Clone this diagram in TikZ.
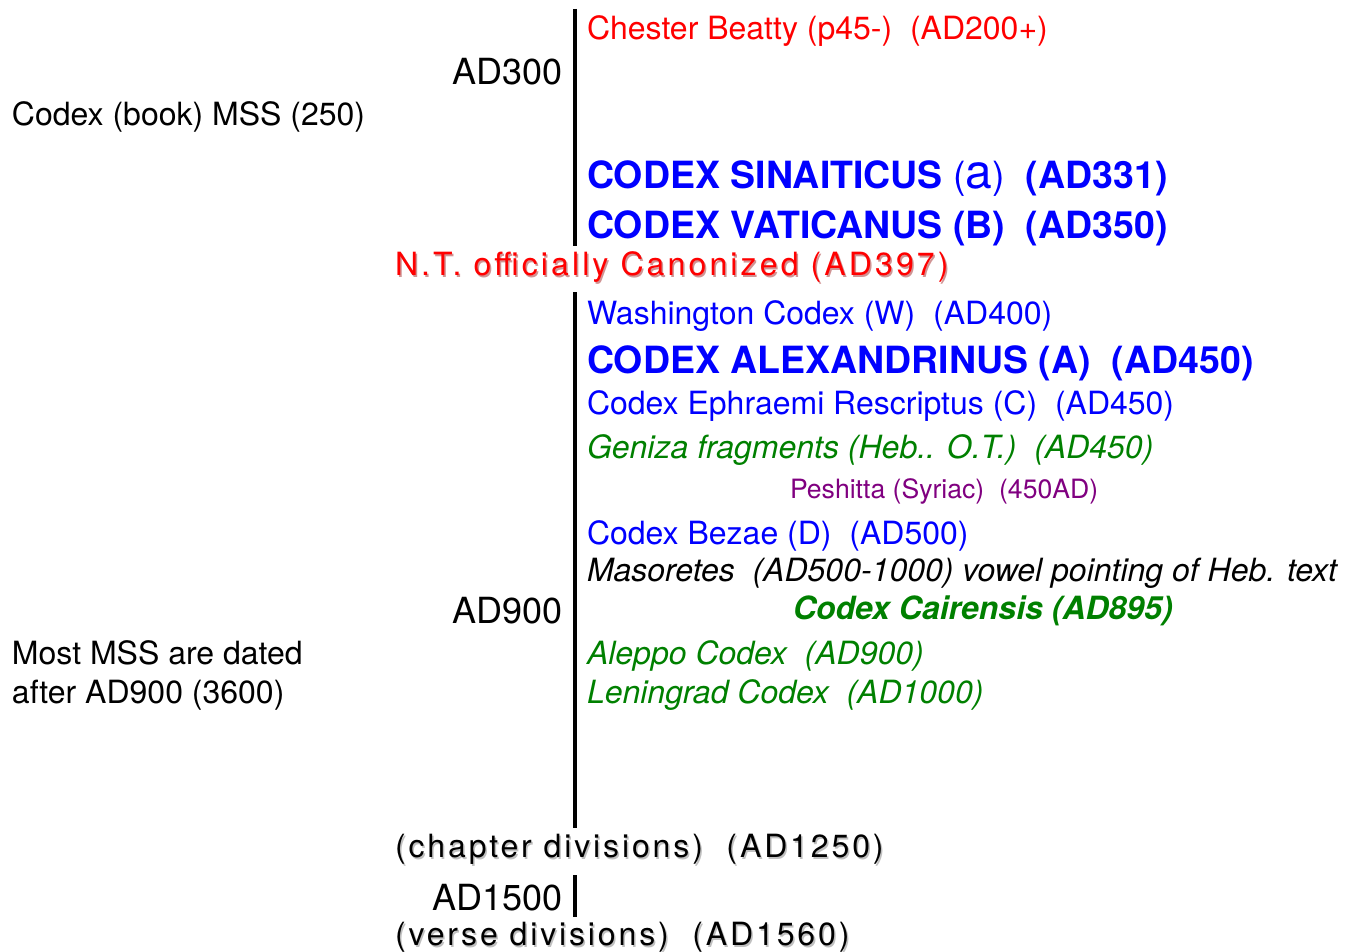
\documentclass[tikz,border=0pt]{standalone}
\usepackage{fontspec}
\setmainfont{TeX Gyre Heros}
\newfontfamily\canonfont[LetterSpace=9.8]{TeX Gyre Heros}
\newfontfamily\divfont[LetterSpace=9]{TeX Gyre Heros}

\definecolor{mred}{RGB}{255,0,0}
\definecolor{mblue}{RGB}{0,0,255}
\definecolor{mgreen}{RGB}{0,128,0}
\definecolor{mpurple}{RGB}{128,0,128}
\definecolor{mshadow}{RGB}{140,140,140}
\definecolor{rshadow}{RGB}{170,60,60}

\begin{document}
\begin{tikzpicture}[x=1pt,y=-1pt,
  every node/.style={inner sep=0pt,outer sep=0pt},
  entry/.style={anchor=base west,font=\fontsize{32}{38}\selectfont},
  small/.style={anchor=base west,font=\fontsize{26.6}{31}\selectfont},
  major/.style={anchor=base west,font=\fontsize{37.5}{44}\selectfont\bfseries,text=mblue},
  era/.style={anchor=base east,font=\fontsize{36}{43}\selectfont},
  canonev/.style={anchor=base west,font=\fontsize{32}{38}\canonfont},
  divev/.style={anchor=base west,font=\fontsize{32}{38}\divfont},
  softshadow/.style={opacity=0.55},
  axisline/.style={line width=4pt,black}
]
\useasboundingbox (0,0) rectangle (1360,952);

% timeline segments
\coordinate (s1a) at (575,9);   \coordinate (s1b) at (575,246);
\coordinate (s2a) at (575,292); \coordinate (s2b) at (575,828);
\coordinate (s3a) at (575,875); \coordinate (s3b) at (575,917);
\draw[axisline] (s1a) -- (s1b);
\draw[axisline] (s2a) -- (s2b);
\draw[axisline] (s3a) -- (s3b);

% era labels
\node[era] (ad300)  at (563,85)  {AD300};
\node[era] (ad900)  at (563,623) {AD900};
\node[era] (ad1500) at (563,910) {AD1500};

% notes on the left
\node[entry] (codexbook) at (12,126) {Codex (book) MSS (250)};
\node[entry] (most1) at (12,664) {Most MSS are dated};
\node[entry] (most2) at (12,703) {after AD900 (3600)};

% manuscripts
\node[entry,text=mred] (chester) at (587,40) {Chester Beatty (p45-)\ \ (AD200+)};
\node[major] (sinaiticus) at (587,189) {CODEX SINAITICUS {\mdseries(\fontsize{48}{50}\selectfont a\fontsize{37.5}{44}\selectfont)}\ \ (AD331)};
\node[major] (vaticanus) at (587,239) {CODEX VATICANUS (B)\ \ (AD350)};

\node[canonev,text=rshadow,softshadow] (canonsh) at (396.5,277.5) {N.T. officially Canonized (AD397)};
\node[canonev,text=mred] (canon) at (395,276) {N.T. officially Canonized (AD397)};

\node[entry,text=mblue] (washington) at (587,324) {Washington Codex (W)\ \ (AD400)};
\node[major] (alexandrinus) at (587,373) {CODEX ALEXANDRINUS (A)\ \ (AD450)};
\node[entry,text=mblue] (ephraemi) at (587,414) {Codex Ephraemi Rescriptus (C)\ \ (AD450)};
\node[entry,text=mgreen,font=\fontsize{32}{38}\selectfont\itshape] (geniza) at (587,458) {Geniza fragments (Heb.. O.T.)\ \ (AD450)};
\node[small,text=mpurple] (peshitta) at (790,498) {Peshitta (Syriac)\ \ (450AD)};
\node[entry,text=mblue] (bezae) at (587,544) {Codex Bezae (D)\ \ (AD500)};
\node[entry,font=\fontsize{32}{38}\selectfont\itshape] (masoretes) at (587,581) {Masoretes\ \ (AD500-1000) vowel pointing of Heb. text};
\node[entry,text=mgreen,font=\fontsize{32}{38}\selectfont\bfseries\itshape] (cairensis) at (793,619) {Codex Cairensis (AD895)};
\node[entry,text=mgreen,font=\fontsize{32}{38}\selectfont\itshape] (aleppo) at (587,664) {Aleppo Codex\ \ (AD900)};
\node[entry,text=mgreen,font=\fontsize{32}{38}\selectfont\itshape] (leningrad) at (587,703) {Leningrad Codex\ \ (AD1000)};

% later divisions of the text
\node[divev,text=mshadow,softshadow] (chaptersh) at (396.5,859) {(chapter divisions)\ \ (AD1250)};
\node[divev] (chapter) at (395,857.5) {(chapter divisions)\ \ (AD1250)};
\node[divev,text=mshadow,softshadow] (versesh) at (396.5,947) {(verse divisions)\ \ (AD1560)};
\node[divev] (verse) at (395,945.5) {(verse divisions)\ \ (AD1560)};
\end{tikzpicture}
\end{document}
